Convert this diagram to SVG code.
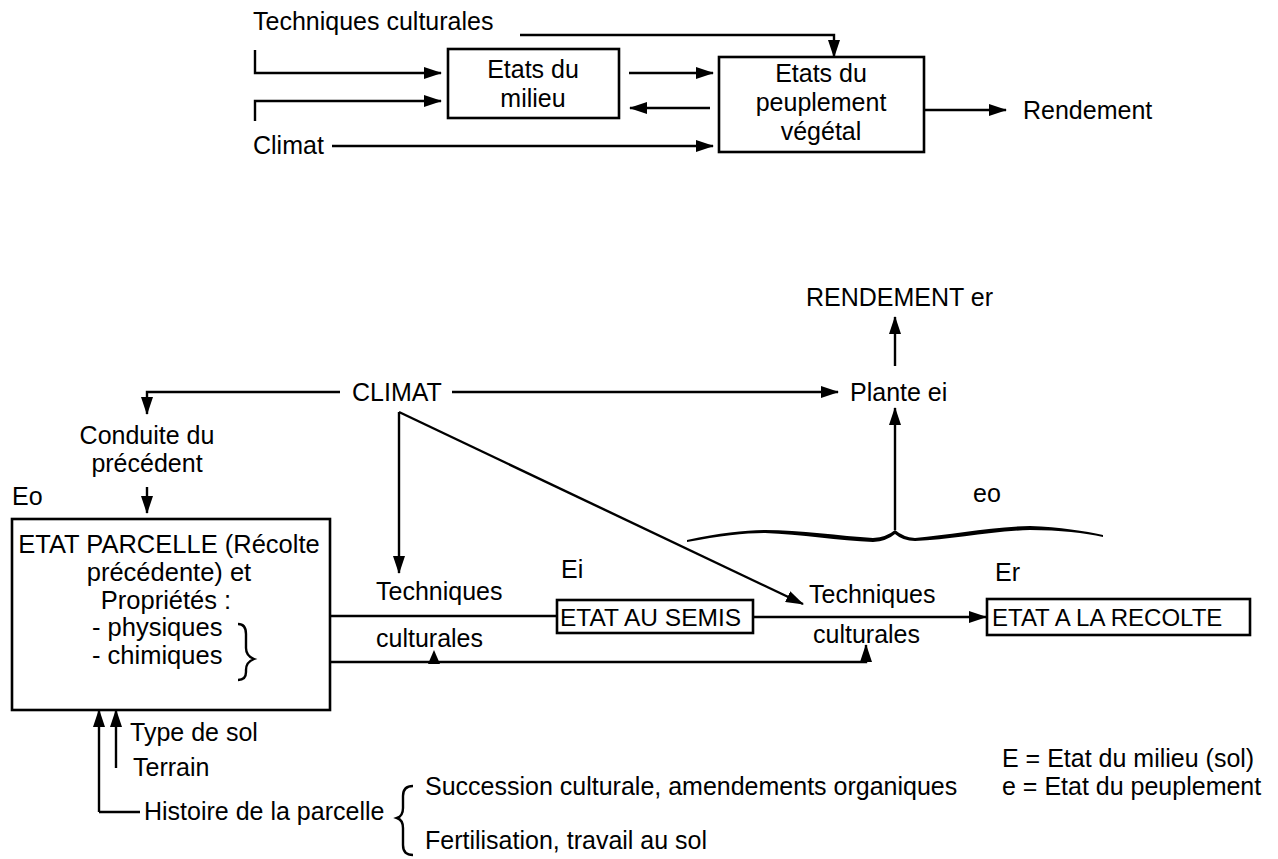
<svg xmlns="http://www.w3.org/2000/svg" width="1278" height="859" viewBox="0 0 1278 859">
<defs>
<marker id="ah" markerWidth="18" markerHeight="12" refX="17" refY="6" orient="auto" markerUnits="userSpaceOnUse">
<path d="M0,0 L18,6 L0,12 z" fill="#000"/>
</marker>
<style>
text{font-family:"Liberation Sans",Arial,sans-serif;font-size:25px;fill:#000}
.c{text-anchor:middle}
.box{fill:#fff;stroke:#000;stroke-width:2.6}
.ln{fill:none;stroke:#000;stroke-width:2.4}
.ar{fill:none;stroke:#000;stroke-width:2.4;marker-end:url(#ah)}
</style>
</defs>
<rect width="1278" height="859" fill="#fff"/>

<g id="connectors">
<path class="ar" d="M520,35 H834 V57"/>
<path class="ar" d="M255,50 V73 H441"/>
<path class="ar" d="M255,121 V101 H441"/>
<path class="ar" d="M629,73 H713"/>
<path class="ar" d="M710,108 H630"/>
<path class="ar" d="M332,146 H713"/>
<path class="ar" d="M924,110 H1006"/>

<path class="ar" d="M340,392 H147 V414"/>
<path class="ar" d="M452,392 H838"/>
<path class="ar" d="M147,487 V513"/>
<path class="ar" d="M399,412 V573"/>
<path class="ar" d="M399,412 L803,604"/>
<path class="ar" d="M895,366 V317"/>
<path class="ar" d="M895,530 V408"/>
<path class="ln" d="M330,616 H557"/>
<path class="ar" d="M753,617 H986"/>
<path class="ln" d="M257,662 H330" stroke-dasharray="14,8"/>
<path class="ar" d="M330,662 H866 V645"/>
<polygon points="428,664 434,650 440,664" fill="#000"/>
<path class="ar" d="M116,768 V710"/>
<path class="ar" d="M99,812 V710"/>
<path class="ln" d="M99,812 H140"/>
</g>

<g id="top-inputs">
<text x="253" y="30">Techniques culturales</text>
<text x="253" y="154">Climat</text>
</g>
<g id="etats-milieu">
<rect class="box" x="448" y="49" width="171" height="69"/>
<text class="c" x="533" y="78">Etats du</text>
<text class="c" x="533" y="107">milieu</text>
</g>
<g id="etats-peuplement">
<rect class="box" x="719" y="57" width="205" height="95"/>
<text class="c" x="821" y="82">Etats du</text>
<text class="c" x="821" y="111">peuplement</text>
<text class="c" x="821" y="140">végétal</text>
</g>
<g id="rendement-top">
<text x="1023" y="119">Rendement</text>
</g>

<g id="rendement">
<text x="806" y="306">RENDEMENT er</text>
</g>
<g id="plante">
<text x="850" y="401">Plante ei</text>
</g>
<g id="climat">
<text x="352" y="401">CLIMAT</text>
</g>
<g id="conduite">
<text class="c" x="147" y="444">Conduite du</text>
<text class="c" x="147" y="472">précédent</text>
</g>
<g id="etat-parcelle">
<text x="12" y="505">Eo</text>
<rect class="box" x="12" y="519" width="318" height="191"/>
<text class="c" x="169" y="553" style="font-size:25.5px">ETAT PARCELLE (Récolte</text>
<text class="c" x="169" y="581" style="font-size:25.5px">précédente) et</text>
<text class="c" x="166" y="609" style="font-size:25.5px">Propriétés :</text>
<text x="92" y="636" style="font-size:25.5px">- physiques</text>
<text x="92" y="664" style="font-size:25.5px">- chimiques</text>
<path class="ln" d="M238,624 Q246,624 246,634 L246,648 Q246,656 254,659 Q246,662 246,670 L246,672 Q246,680 238,680"/>
</g>
<g id="techniques-1">
<text x="376" y="600">Techniques</text>
<text x="376" y="647">culturales</text>
</g>
<g id="etat-semis">
<text x="561" y="578">Ei</text>
<rect class="box" x="557" y="600" width="196" height="33"/>
<text x="560" y="626" style="font-size:24.5px">ETAT AU SEMIS</text>
</g>
<g id="techniques-2">
<text x="809" y="603">Techniques</text>
<text x="813" y="643">culturales</text>
</g>
<g id="etat-recolte">
<text x="995" y="581">Er</text>
<rect class="box" x="987" y="599" width="263" height="36"/>
<text x="992" y="626" style="font-size:24px">ETAT A LA RECOLTE</text>
</g>
<g id="eo">
<text x="973" y="502">eo</text>
<path d="M687,540 C720,533 745,530 765,530 C800,530 840,536 873,538 Q887,537 895,530 Q903,537 915,538 C950,535 990,527 1030,526 C1060,527 1085,531 1103,535 L1103,537 C1085,533 1060,530 1030,530 C990,531 950,540 915,541 Q903,541 895,534 Q887,541 873,542 C840,541 800,534 765,533 C745,533 720,536 687,542 Z" fill="#000"/>
</g>
<g id="sol">
<text x="130" y="741">Type de sol</text>
<text x="133" y="776">Terrain</text>
<text x="144" y="820">Histoire de la parcelle</text>
<path class="ln" d="M413,786 Q403,786 403,796 L403,808 Q403,816 397,818 Q403,820 403,828 L403,845 Q403,855 413,855"/>
<text x="425" y="795">Succession culturale, amendements organiques</text>
<text x="425" y="849">Fertilisation, travail au sol</text>
</g>
<g id="legend">
<text x="1002" y="767">E = Etat du milieu (sol)</text>
<text x="1002" y="795">e = Etat du peuplement</text>
</g>
</svg>
